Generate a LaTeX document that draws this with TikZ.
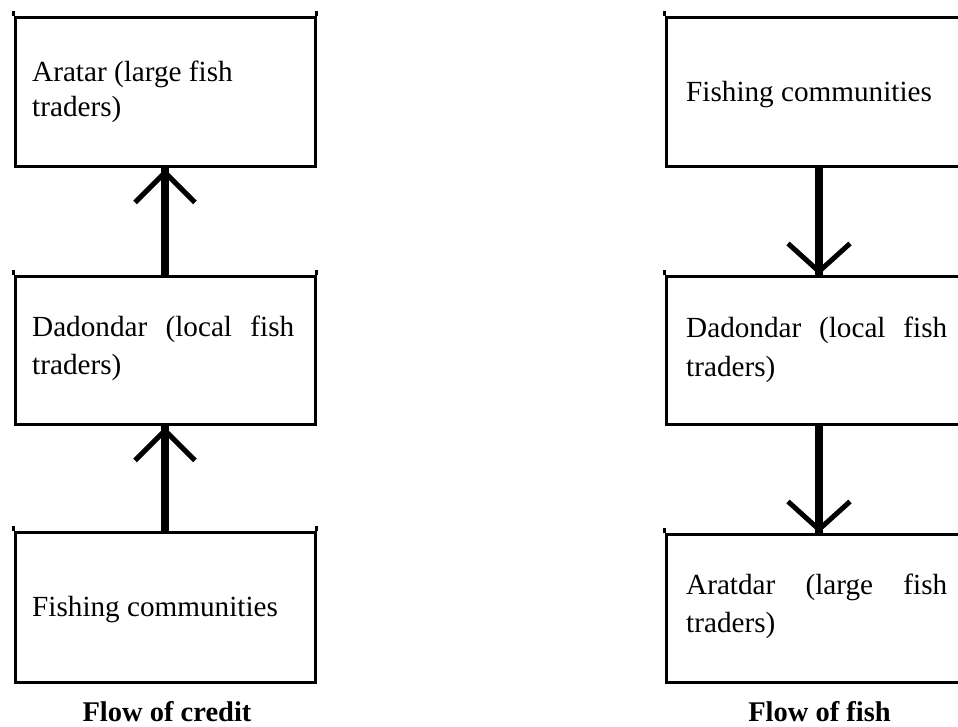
\documentclass[tikz,border=0pt]{standalone}
\usepackage{fontspec}
\setmainfont{Liberation Serif}
\begin{document}
\begin{tikzpicture}[x=1pt,y=1pt,
  box/.style={draw=black, line width=3pt, minimum width=300pt, inner sep=0pt},
  rbox/.style={box, minimum width=306pt},
  txt/.style={inner sep=0pt, anchor=base west, font=\fontsize{29.2}{34}\selectfont},
  captxt/.style={inner sep=0pt, anchor=base, font=\fontsize{28.5}{34}\selectfont\bfseries},
  shaft/.style={line width=8pt},
  barb/.style={line width=5pt, line join=miter},
  tickline/.style={line width=3pt}]
\useasboundingbox (0,0) rectangle (958,727);
\clip (0,0) rectangle (958,727);
% left column: flow of credit
\node[box, minimum height=149pt] (L1) at (165,634.5) {};
\node[box, minimum height=148pt] (L2) at (165,376) {};
\node[box, minimum height=150pt] (L3) at (165,119) {};
% right column: flow of fish
\node[rbox, minimum height=149pt] (R1) at (819,634.5) {};
\node[rbox, minimum height=148pt] (R2) at (819,376) {};
\node[rbox, minimum height=148pt] (R3) at (819,118) {};
% corner ticks
\foreach \b in {L1,L2,L3,R1,R2,R3}{
  \draw[tickline] (\b.north west) -- ([yshift=5pt]\b.north west);
  \draw[tickline] (\b.north east) -- ([yshift=5pt]\b.north east);
}
% texts
\node[txt] (L1a) at (32,645) {Aratar (large fish};
\node[txt] (L1b) at (32,610) {traders)};
\node[txt] (L2a) at (32,390) {\makebox[262pt][s]{Dadondar (local fish}};
\node[txt] (L2b) at (32,352) {traders)};
\node[txt] (L3a) at (32,110) {Fishing communities};
\node[txt] (R1a) at (686,625) {Fishing communities};
\node[txt] (R2a) at (686,389) {\makebox[261pt][s]{Dadondar (local fish}};
\node[txt] (R2b) at (686,350) {traders)};
\node[txt] (R3a) at (686,132) {\makebox[261pt][s]{Aratdar (large fish}};
\node[txt] (R3b) at (686,94) {traders)};
% captions
\node[captxt] (C1) at (167,5) {Flow of credit};
\node[captxt] (C2) at (819.5,5) {Flow of fish};
% arrows left (upward)
\draw[shaft] (L2.north) -- (L1.south);
\coordinate (t1) at ([yshift=-4pt]L1.south);
\draw[barb] ([xshift=-30pt,yshift=-30pt]t1) -- (t1) -- ([xshift=30pt,yshift=-30pt]t1);
\draw[shaft] (L3.north) -- (L2.south);
\coordinate (t2) at ([yshift=-4pt]L2.south);
\draw[barb] ([xshift=-30pt,yshift=-30pt]t2) -- (t2) -- ([xshift=30pt,yshift=-30pt]t2);
% arrows right (downward)
\draw[shaft] (R1.south) -- (R2.north);
\coordinate (t3) at ([yshift=4pt]R2.north);
\draw[barb] ([xshift=-31pt,yshift=28pt]t3) -- (t3) -- ([xshift=31pt,yshift=28pt]t3);
\draw[shaft] (R2.south) -- (R3.north);
\coordinate (t4) at ([yshift=4pt]R3.north);
\draw[barb] ([xshift=-31pt,yshift=28pt]t4) -- (t4) -- ([xshift=31pt,yshift=28pt]t4);
\end{tikzpicture}
\end{document}
